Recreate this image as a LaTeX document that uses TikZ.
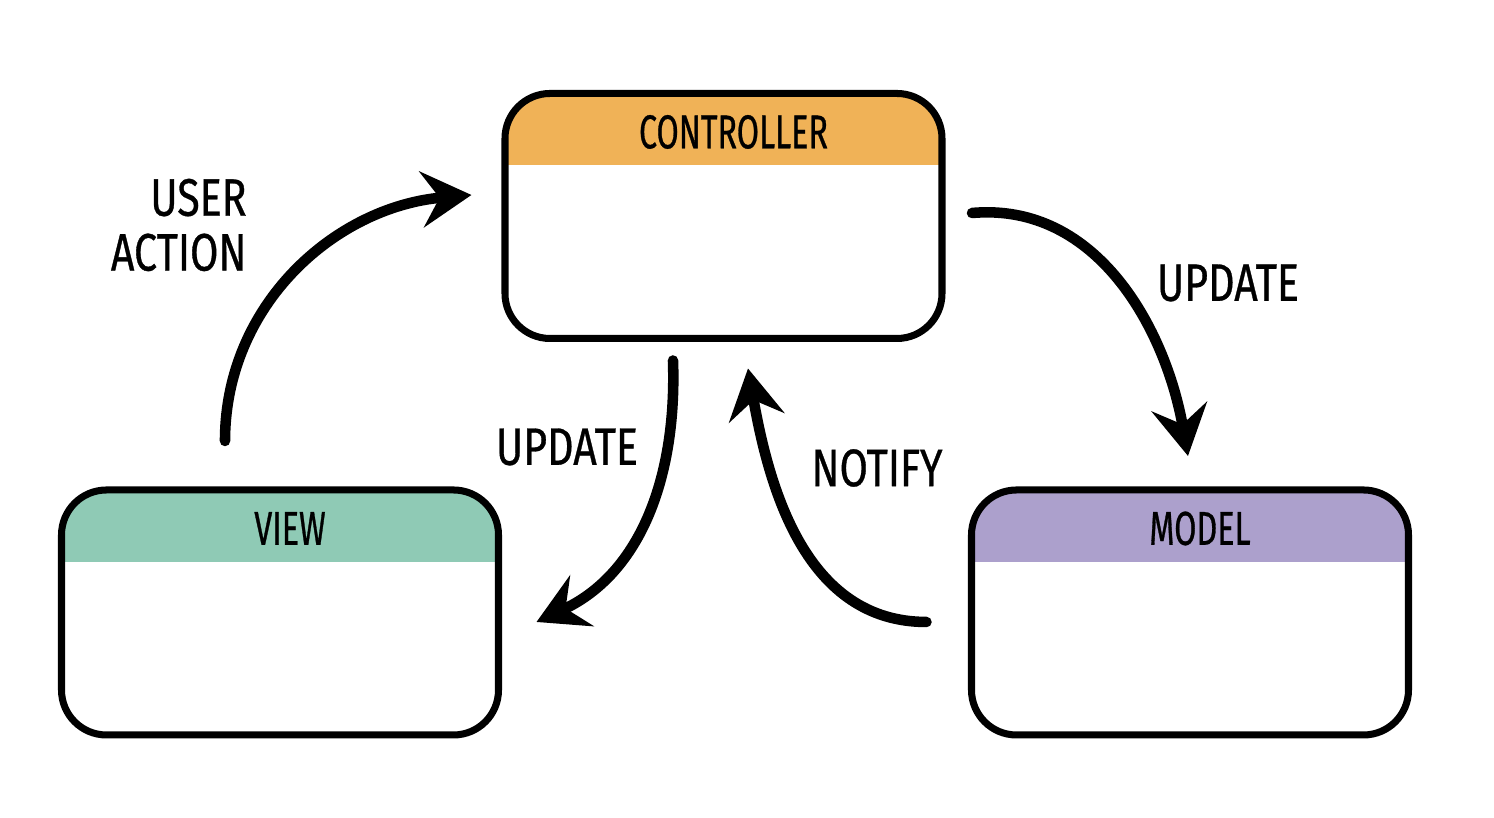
\documentclass[tikz,border=0pt]{standalone}
\usepackage{fontspec}
\newfontfamily\handfont[FakeStretch=0.68, FakeBold=0.6]{Fira Sans}
\newfontfamily\notefont[FakeStretch=0.78, FakeBold=0.6]{Fira Sans}
\usetikzlibrary{arrows.meta}
\definecolor{ctrlhead}{HTML}{F0B257}
\definecolor{viewhead}{HTML}{8FCAB5}
\definecolor{modelhead}{HTML}{ACA0CC}
\begin{document}
\begin{tikzpicture}
[
    font=\handfont\fontsize{13.5}{15.6}\selectfont,
    mvcbox/.style={draw, line width=2pt, rounded corners=0.45cm, fill=white,
        minimum width=4.37cm, minimum height=2.45cm, inner sep=0pt,
        path picture={\fill[#1, sharp corners] (path picture bounding box.north west)
            rectangle ([yshift=-0.72cm]path picture bounding box.north east);}},
    flow/.style={line width=3pt, line cap=round,
        -{Stealth[length=0.5cm, width=0.56cm, inset=0.18cm]}},
    note/.style={font=\notefont\fontsize{15}{15.6}\selectfont},
]
\useasboundingbox (0,0) rectangle (14.94,8.18);
\node[mvcbox=ctrlhead] (ctrl) at (7.235,6.02) {};
\node[mvcbox=viewhead] (view) at (2.80,2.055) {};
\node[mvcbox=modelhead] (model) at (11.90,2.055) {};
\node (ctrltitle) at ([xshift=0.1cm, yshift=-0.42cm]ctrl.north) {CONTROLLER};
\node (viewtitle) at ([xshift=0.1cm, yshift=-0.42cm]view.north) {VIEW};
\node (modeltitle) at ([xshift=0.1cm, yshift=-0.42cm]model.north) {MODEL};
\draw[flow] ([xshift=-0.55cm, yshift=0.455cm]view.north) to[out=90, in=185] ([xshift=-0.3cm, yshift=0.21cm]ctrl.west);
\draw[flow] ([xshift=0.265cm, yshift=0.03cm]ctrl.east) to[out=5, in=100] ([xshift=-0.02cm, yshift=0.305cm]model.north);
\draw[flow] ([xshift=-0.505cm, yshift=-0.185cm]ctrl.south) to[out=-88, in=25] ([xshift=0.345cm, yshift=-0.095cm]view.east);
\draw[flow] ([xshift=-0.415cm, yshift=-0.095cm]model.west) to[out=180, in=-80] ([xshift=0.245cm, yshift=-0.265cm]ctrl.south);
\node[note, anchor=east, align=right] (useraction) at (2.59,5.93) {USER\\ACTION};
\node[note] (updatemodel) at (12.28,5.35) {UPDATE};
\node[note] (updateview) at (5.67,3.71) {UPDATE};
\node[note] (notify) at (8.77,3.50) {NOTIFY};
\end{tikzpicture}
\end{document}
